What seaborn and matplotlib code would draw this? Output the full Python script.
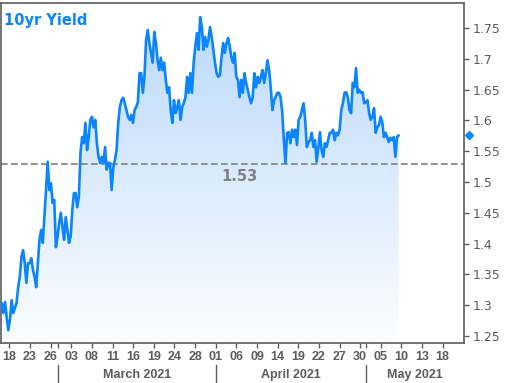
import numpy as np
import matplotlib
matplotlib.use("Agg")
import matplotlib.pyplot as plt
from matplotlib.colors import LinearSegmentedColormap
import seaborn as sns

# 10yr yield, intraday readings (mid Feb -> May 10, 2021)
yields = [
    1.303, 1.287, 1.305, 1.280, 1.259, 1.276, 1.308, 1.287, 1.295, 1.303,
    1.329, 1.346, 1.378, 1.389, 1.368, 1.336, 1.368, 1.368, 1.376, 1.357,
    1.346, 1.329, 1.368, 1.406, 1.422, 1.401, 1.443, 1.487, 1.533, 1.487,
    1.498, 1.466, 1.471, 1.394, 1.411, 1.433, 1.450, 1.427, 1.406, 1.443,
    1.422, 1.401, 1.411, 1.454, 1.482, 1.482, 1.459, 1.476, 1.547, 1.573,
    1.563, 1.596, 1.552, 1.573, 1.601, 1.606, 1.589, 1.601, 1.563, 1.541,
    1.531, 1.541, 1.531, 1.557, 1.520, 1.531, 1.531, 1.487, 1.524, 1.536,
    1.552, 1.596, 1.622, 1.633, 1.637, 1.628, 1.617, 1.606, 1.601, 1.609,
    1.596, 1.617, 1.622, 1.630, 1.677, 1.677, 1.645, 1.671, 1.731, 1.747,
    1.726, 1.710, 1.694, 1.744, 1.726, 1.698, 1.682, 1.702, 1.682, 1.694,
    1.666, 1.645, 1.654, 1.617, 1.596, 1.633, 1.612, 1.622, 1.633, 1.601,
    1.622, 1.628, 1.638, 1.671, 1.645, 1.677, 1.645, 1.694, 1.720, 1.742,
    1.715, 1.768, 1.752, 1.715, 1.736, 1.720, 1.731, 1.752, 1.736, 1.715,
    1.694, 1.677, 1.671, 1.674, 1.703, 1.726, 1.710, 1.726, 1.734, 1.720,
    1.703, 1.694, 1.710, 1.671, 1.666, 1.638, 1.666, 1.645, 1.677, 1.661,
    1.650, 1.638, 1.628, 1.638, 1.677, 1.654, 1.671, 1.661, 1.671, 1.682,
    1.661, 1.677, 1.698, 1.682, 1.654, 1.617, 1.633, 1.638, 1.645, 1.645,
    1.638, 1.614, 1.568, 1.531, 1.580, 1.581, 1.563, 1.585, 1.573, 1.585,
    1.560, 1.601, 1.606, 1.617, 1.628, 1.601, 1.557, 1.565, 1.568, 1.580,
    1.557, 1.568, 1.533, 1.555, 1.581, 1.552, 1.541, 1.563, 1.557, 1.568,
    1.580, 1.580, 1.585, 1.568, 1.580, 1.576, 1.585, 1.617, 1.628, 1.645,
    1.646, 1.638, 1.617, 1.612, 1.661, 1.654, 1.685, 1.645, 1.650, 1.645,
    1.646, 1.628, 1.630, 1.633, 1.612, 1.601, 1.606, 1.620, 1.580, 1.589,
    1.593, 1.606, 1.598, 1.573, 1.580, 1.573, 1.565, 1.572, 1.568, 1.573,
    1.541, 1.573, 1.576,
]
# first / last reading, in trading sessions (Feb 18 = session 1)
session_start = -0.1
session_end = 57.6

tick_sessions = [1, 4, 7, 10, 13, 16, 19, 22, 25, 28, 31, 34, 37, 40, 43, 46,
                 49, 52, 55, 58, 61, 64]
tick_labels = ['18', '23', '26', '03', '08', '11', '16', '19', '24', '28', '01',
               '06', '09', '14', '19', '22', '27', '30', '05', '10', '13', '18']
month_starts = [8.1, 31, 52.8]
month_names = ['March 2021', 'April 2021', 'May 2021']
ref_level = 1.53
y_ticks = [1.25, 1.3, 1.35, 1.4, 1.45, 1.5, 1.55, 1.6, 1.65, 1.7, 1.75]

blue = '#0a84ff'
gray = '#5c5c5c'
xlim = (-0.21, 67.1)
ylim = (1.2382, 1.791)

sns.set_theme(style='white')
plt.rcParams['font.family'] = ['DejaVu Sans']

x = np.linspace(session_start, session_end, len(yields))

fig = plt.figure(figsize=(5.06, 3.83), dpi=100)
ax = fig.add_axes([0.002, 0.1044, 0.915, 0.8877])

# gradient fill under the line
cmap = LinearSegmentedColormap.from_list('fade', ['#fcfdff', '#b8d8fa'])
grad = np.linspace(0, 1, 256).reshape(-1, 1)
im = ax.imshow(grad, extent=[xlim[0], xlim[1], ylim[0], ylim[1]], origin='lower',
               aspect='auto', cmap=cmap, zorder=1)
poly = ax.fill_between(x, yields, ylim[0], color='none', linewidth=0)
im.set_clip_path(poly.get_paths()[0], transform=ax.transData)

sns.lineplot(x=x, y=yields, ax=ax, color=blue, linewidth=1.9, sort=False,
             estimator=None, zorder=3)

ax.axhline(ref_level, color='#808080', linewidth=1.2, dashes=(4, 2), zorder=2)
ax.annotate(f'{ref_level:.2f}', xy=(0.516, ref_level),
            xycoords=ax.get_yaxis_transform(), xytext=(0, -9),
            textcoords='offset points', ha='center', va='center',
            fontsize=10.5, fontweight='bold', color='#808080', zorder=4)

# last value marker on the right axis
ax.plot([1.0108], [yields[-1]], marker='D', markersize=4.5, color=blue,
        transform=ax.get_yaxis_transform(), clip_on=False, zorder=5)

ax.set_xlim(*xlim)
ax.set_ylim(*ylim)

ax.yaxis.tick_right()
ax.set_yticks(y_ticks)
ax.set_yticklabels([f'{v:g}' for v in y_ticks])
for lab in ax.get_yticklabels():
    if lab.get_text() == '1.5':
        lab.set_color('#333333')
ax.tick_params(axis='y', which='both', right=True, left=False, length=3.5,
               width=1, color=gray, pad=2.5, labelsize=9, labelcolor=gray)

all_ticks = tick_sessions + [month_starts[0], month_starts[2]]
all_labels = tick_labels + ['', '']
ax.set_xticks(all_ticks)
ax.set_xticklabels(all_labels)
ax.tick_params(axis='x', bottom=True, length=3.5, width=1, color=gray, pad=2.5)
for lab in ax.get_xticklabels():
    lab.set_fontfamily('Liberation Sans')
    lab.set_fontweight('bold')
    lab.set_fontsize(9)
    lab.set_color(gray)

# month band under the axis
xt = ax.get_xaxis_transform()
bounds = month_starts + [xlim[1]]
for i, name in enumerate(month_names):
    ax.plot([month_starts[i]] * 2, [-0.064, -0.12], color=gray, linewidth=1,
            transform=xt, clip_on=False)
    ax.text((bounds[i] + bounds[i + 1]) / 2, -0.094, name, transform=xt,
            ha='center', va='center', fontsize=9, fontweight='bold',
            color=gray, family='Liberation Sans')

ax.text(0.006, 0.972, '10yr Yield', transform=ax.transAxes, ha='left', va='top',
        fontsize=10.5, fontweight='bold', color=blue)

for side in ['left', 'right', 'top', 'bottom']:
    ax.spines[side].set_color(gray)
    ax.spines[side].set_linewidth(1.2)
    ax.spines[side].set_visible(True)

ax.set_xlabel('')
ax.set_ylabel('')
ax.grid(False)

fig.savefig('out.png', dpi=100)
